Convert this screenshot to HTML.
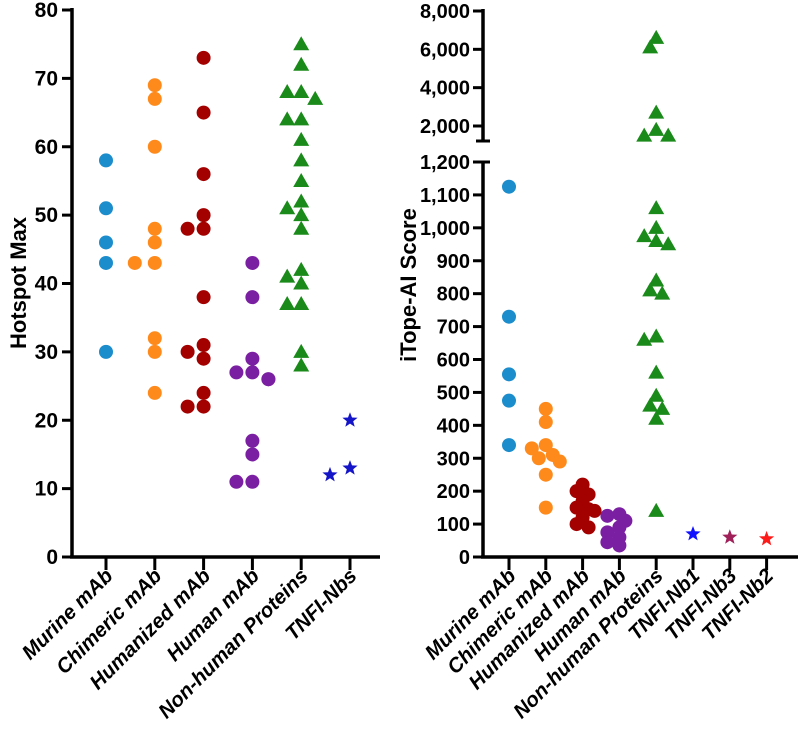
<!DOCTYPE html>
<html><head><meta charset="utf-8"><style>
body{margin:0;background:#fff}
svg text{font-family:"Liberation Sans",Arial,sans-serif;font-weight:bold;fill:#000}
</style></head><body>
<svg id="c" width="800" height="733" viewBox="0 0 800 733" xmlns="http://www.w3.org/2000/svg">
<g id="L"></g>
<g id="R"></g>
</svg>
<script>
const leftCats=["Murine mAb","Chimeric mAb","Humanized mAb","Human mAb","Non-human Proteins","TNFI-Nbs"];
const leftTicks=[0,10,20,30,40,50,60,70,80];
const leftMurine=[58,51,46,43,30];
const leftChimeric=[69,67,60,48,46,43,43,32,30,24];
const leftHumanized=[73,65,56,50,48,48,38,31,30,29,24,22,22];
const leftHuman=[43,38,29,27,27,26,26,17,15,11,11];
const leftNonHuman=[75,72,68,68,67,64,64,61,58,55,52,51,50,48,42,41,40,37,37,30,28];
const leftNbs=[20,13,12];
const rightCats=["Murine mAb","Chimeric mAb","Humanized mAb","Human mAb","Non-human Proteins","TNFI-Nb1","TNFI-Nb3","TNFI-Nb2"];
const rightTicksLow=[0,100,200,300,400,500,600,700,800,900,1000,1100,1200];
const rightTicksHigh=[2000,4000,6000,8000];
const rightMurine=[1125,730,555,475,340];
const rightChimeric=[450,410,340,330,310,300,290,250,150];
const rightHumanized=[220,200,190,170,150,145,140,120,100,90];
const rightHuman=[130,125,110,90,75,60,45,35];
const rightNonHuman=[6600,6100,2700,1800,1500,1500,1060,1000,975,960,950,840,810,800,670,660,560,490,460,450,420,140];
const rightNb1=[70];const rightNb3=[60];const rightNb2=[55];

const NS="http://www.w3.org/2000/svg";
function mk(p,t,a){const e=document.createElementNS(NS,t);for(const k in a)e.setAttribute(k,a[k]);p.appendChild(e);return e;}
const Y0=557;
const lx=i=>106+i*48.8;
const ly=v=>Y0-(v/80)*(Y0-10);
const rx=i=>509+i*36.8;
const ry=v=>v<=1200?Y0-(v/1200)*(Y0-162):126-((v-2000)/6000)*(126-11);

function swarm(vals,cx,ys,minD,step){
  const placed=[];const out=[];
  vals.forEach(v=>{const y=ys(v);let pos=cx;const cands=[0,-1,1,-2,2];
    for(const c of cands){const x=cx+c*step;pos=x;if(placed.every(p=>Math.hypot(p[0]-x,p[1]-y)>=minD))break;}
    placed.push([pos,y]);out.push([pos,y]);});
  return out;
}
function star(g,x,y,r,col){let pts=[];for(let i=0;i<10;i++){const a=-Math.PI/2+i*Math.PI/5;const rr=i%2?r*0.42:r;pts.push((x+rr*Math.cos(a)).toFixed(1)+","+(y+rr*Math.sin(a)).toFixed(1));}
  const s=mk(g,"polygon",{points:pts.join(" "),fill:col});}
function tri(g,x,y,r,col){const s=mk(g,"polygon",{points:`${x},${y-r} ${x-r},${y+r*0.75} ${x+r},${y+r*0.75}`,fill:col});}
function dot(g,x,y,r,col){const s=mk(g,"circle",{cx:x,cy:y,r:r,fill:col});}
function series(g,vals,cx,ys,shape,col,d,st){swarm(vals,cx,ys,d,st).forEach(p=>{if(shape=="c")dot(g,p[0],p[1],7,col);else if(shape=="t")tri(g,p[0],p[1],8,col);else star(g,p[0],p[1],8,col);});}
function xlabels(g,cats,xf){cats.forEach((c,i)=>{const x=xf(i);
  const tk=mk(g,"line",{x1:x,y1:Y0,x2:x,y2:570,stroke:"#000","stroke-width":3});
  const t=mk(g,"text",{x:x+8,y:577,"text-anchor":"end","font-size":20.5,"font-style":"italic",transform:`rotate(-45 ${x+8} 577)`});t.textContent=c;});}

// LEFT
const L=document.getElementById('L');
mk(L,"line",{x1:72,y1:8,x2:72,y2:Y0+1.5,stroke:"#000","stroke-width":3.5});
mk(L,"line",{x1:70,y1:Y0,x2:380,y2:Y0,stroke:"#000","stroke-width":3.5});
leftTicks.forEach(v=>{const y=ly(v);mk(L,"line",{x1:62,y1:y,x2:72,y2:y,stroke:"#000","stroke-width":3});
 const t=mk(L,"text",{x:58,y:y+7,"text-anchor":"end","font-size":21});t.textContent=v;});
const lt=mk(L,"text",{x:26,y:283,"text-anchor":"middle","font-size":22,transform:"rotate(-90 26 283)"});lt.textContent="Hotspot Max";
xlabels(L,leftCats,lx);
series(L,leftMurine,lx(0),ly,"c","#1b8ccc",12,9);
series(L,leftChimeric,lx(1),ly,"c","#ff8a1c",12,10);
series(L,leftHumanized,lx(2),ly,"c","#a30000",12,8);
series(L,leftHuman,lx(3),ly,"c","#7b1fa2",12,8);
series(L,leftNonHuman,lx(4),ly,"t","#1a8a1a",12,7);
series(L,leftNbs,lx(5),ly,"s","#1414c8",16,10);

// RIGHT
const R=document.getElementById('R');
mk(R,"line",{x1:483,y1:9,x2:483,y2:141,stroke:"#000","stroke-width":3.5});
mk(R,"line",{x1:483,y1:162,x2:483,y2:Y0+1.5,stroke:"#000","stroke-width":3.5});
mk(R,"line",{x1:476,y1:141,x2:490,y2:141,stroke:"#000","stroke-width":3});
mk(R,"line",{x1:476,y1:162,x2:490,y2:162,stroke:"#000","stroke-width":3});
mk(R,"line",{x1:481,y1:Y0,x2:798,y2:Y0,stroke:"#000","stroke-width":3.5});
rightTicksLow.concat(rightTicksHigh).forEach(v=>{const y=ry(v);mk(R,"line",{x1:473,y1:y,x2:483,y2:y,stroke:"#000","stroke-width":3});
 const t=mk(R,"text",{x:470,y:y+7,"text-anchor":"end","font-size":20});t.textContent=v.toLocaleString('en-US');});
const rt=mk(R,"text",{x:416,y:285,"text-anchor":"middle","font-size":22,transform:"rotate(-90 416 285)"});rt.textContent="iTope-AI Score";
xlabels(R,rightCats,rx);
series(R,rightMurine,rx(0),ry,"c","#1b8ccc",12,7);
series(R,rightChimeric,rx(1),ry,"c","#ff8a1c",10,7);
series(R,rightHumanized,rx(2),ry,"c","#a30000",8,6);
series(R,rightHuman,rx(3),ry,"c","#7b1fa2",8,6);
series(R,rightNonHuman,rx(4),ry,"t","#1a8a1a",11,6);
series(R,rightNb1,rx(5),ry,"s","#1010ff",16,8);
series(R,rightNb3,rx(6),ry,"s","#a0205a",16,8);
series(R,rightNb2,rx(7),ry,"s","#ff1a1a",16,8);
</script>
</body></html>
